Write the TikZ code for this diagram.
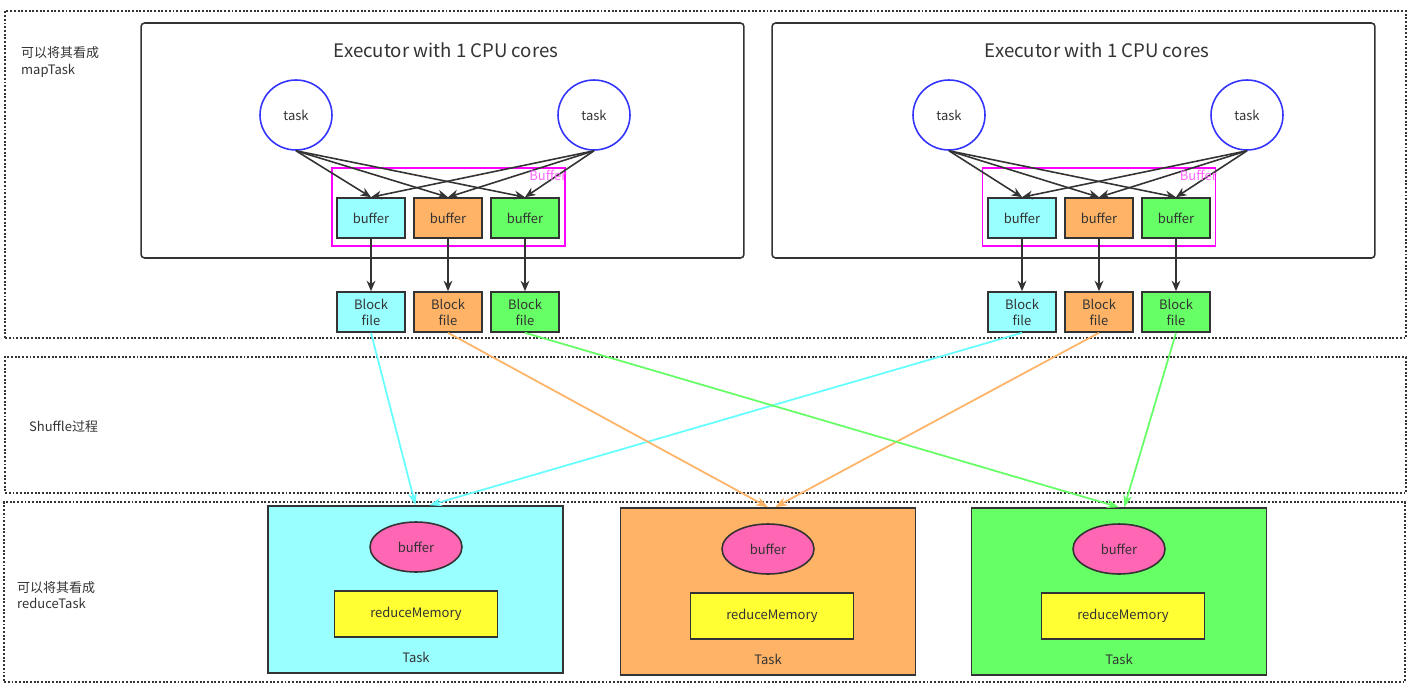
\documentclass[tikz,border=0pt]{standalone}
\usepackage{fontspec}
\setmainfont{Noto Sans CJK SC}
\usetikzlibrary{arrows.meta, positioning, shapes.geometric}
\definecolor{txt}{HTML}{333333}
\definecolor{taskblue}{HTML}{3333FF}
\definecolor{grpmag}{HTML}{FF00FF}
\definecolor{grptext}{HTML}{FF66FF}
\definecolor{fcyan}{HTML}{99FFFF}
\definecolor{forange}{HTML}{FFB366}
\definecolor{fgreen}{HTML}{66FF66}
\definecolor{lcyan}{HTML}{66FFFF}
\definecolor{fpink}{HTML}{FF66B3}
\definecolor{fyellow}{HTML}{FFFF33}

\begin{document}
\begin{tikzpicture}[
			x=0.02cm, y=-0.02cm,
			font=\fontsize{7.4}{9.5}\selectfont, text=txt,
			area/.style={draw=txt, densely dotted, line width=1.1pt, minimum width=28.02cm},
			executor/.style={draw=txt, rounded corners=2pt, line width=0.9pt, minimum width=12.06cm, minimum height=4.7cm},
			title/.style={font=\fontsize{10.6}{12}\selectfont},
			taskcirc/.style={ellipse, draw=taskblue, line width=0.9pt, minimum width=1.44cm, minimum height=1.4cm},
			bufgroup/.style={draw=grpmag, line width=0.9pt, minimum width=4.66cm, minimum height=1.56cm},
			grplabel/.style={text=grptext, inner sep=0.5pt},
			bufbox/.style={draw=txt, line width=0.9pt, minimum width=1.36cm, minimum height=0.8cm},
			blockbox/.style={bufbox, align=center, font=\fontsize{7.4}{9}\selectfont},
			redtask/.style={draw=txt, line width=0.9pt, minimum width=5.9cm, minimum height=3.34cm},
			redbuf/.style={ellipse, draw=txt, fill=fpink, line width=0.9pt, minimum width=1.84cm, minimum height=1cm},
			redmem/.style={draw=txt, fill=fyellow, line width=0.9pt, minimum width=3.26cm, minimum height=0.92cm},
			sidelabel/.style={align=left, anchor=west},
			arr/.style={-{Stealth[length=6pt, width=5pt]}, draw=txt, line width=0.9pt},
			flow/.style={-{Stealth[length=7pt, width=5pt]}, line width=1pt}
			]
			
			\useasboundingbox (0,0) rectangle (1414,687);
			
			% dotted areas
			\node[area, minimum height=6.54cm] (maparea) at (705.5,174.5) {};
			\node[area, minimum height=2.72cm] (shufarea) at (705.5,425) {};
			\node[area, minimum height=3.6cm] (redarea) at (704.5,592) {};
			
			\node[sidelabel] (mapnote) at (15,62) {可以将其看成\\mapTask};
			\node[sidelabel] (shufnote) at (23,427) {Shuffle过程};
			\node[sidelabel] (rednote) at (11,595) {可以将其看成\\reduceTask};
			
			% executors
			\node[executor] (exeL) at (442.5,140.5) {};
			\node[executor] (exeR) at (1073.5,140.5) {};
			\node[title] (titleL) at (446,50) {Executor with 1 CPU cores};
			\node[title] (titleR) at (1097,50) {Executor with 1 CPU cores};
			
			\node[taskcirc] (tL1) at (296,115) {task};
			\node[taskcirc] (tL2) at (594,115) {task};
			\node[taskcirc] (tR1) at (949,115) {task};
			\node[taskcirc] (tR2) at (1247,115) {task};
			
			\node[bufgroup] (gL) at (448.5,207) {};
			\node[bufgroup] (gR) at (1099,207) {};
			
			\node[bufbox, fill=fcyan] (bL1) at (371,218) {buffer};
			\node[bufbox, fill=forange] (bL2) at (448,218) {buffer};
			\node[bufbox, fill=fgreen] (bL3) at (525,218) {buffer};
			\node[bufbox, fill=fcyan] (bR1) at (1022,218) {buffer};
			\node[bufbox, fill=forange] (bR2) at (1099,218) {buffer};
			\node[bufbox, fill=fgreen] (bR3) at (1176,218) {buffer};
			
			\node[blockbox, fill=fcyan] (fL1) at (371,312) {Block\\file};
			\node[blockbox, fill=forange] (fL2) at (448,312) {Block\\file};
			\node[blockbox, fill=fgreen] (fL3) at (525,312) {Block\\file};
			\node[blockbox, fill=fcyan] (fR1) at (1022,312) {Block\\file};
			\node[blockbox, fill=forange] (fR2) at (1099,312) {Block\\file};
			\node[blockbox, fill=fgreen] (fR3) at (1176,312) {Block\\file};
			
			% reduce tasks
			\node[redtask, fill=fcyan] (rt1) at (415.5,589.5) {};
			\node[redtask, fill=forange] (rt2) at (768,591.5) {};
			\node[redtask, fill=fgreen] (rt3) at (1119,591.5) {};
			
			\node[redbuf] (rb1) at (416,547) {buffer};
			\node[redbuf] (rb2) at (768,549) {buffer};
			\node[redbuf] (rb3) at (1119,549) {buffer};
			\node[redmem] (rm1) at (416,614) {reduceMemory};
			\node[redmem] (rm2) at (772,616) {reduceMemory};
			\node[redmem] (rm3) at (1123,616) {reduceMemory};
			\node (rl1) at (416,657) {Task};
			\node (rl2) at (768,659) {Task};
			\node (rl3) at (1119,659) {Task};
			
			% task -> buffer
			\draw[arr] (tL1.south) -- (bL1.north);
			\draw[arr] (tL1.south) -- (bL2.north);
			\draw[arr] (tL1.south) -- (bL3.north);
			\draw[arr] (tL2.south) -- (bL1.north);
			\draw[arr] (tL2.south) -- (bL2.north);
			\draw[arr] (tL2.south) -- (bL3.north);
			\draw[arr] (tR1.south) -- (bR1.north);
			\draw[arr] (tR1.south) -- (bR2.north);
			\draw[arr] (tR1.south) -- (bR3.north);
			\draw[arr] (tR2.south) -- (bR1.north);
			\draw[arr] (tR2.south) -- (bR2.north);
			\draw[arr] (tR2.south) -- (bR3.north);
			
			\node[grplabel, anchor=north east] (gLlabel) at ([xshift=1pt, yshift=-1pt]gL.north east) {Buffer};
			\node[grplabel, anchor=north east] (gRlabel) at ([xshift=1pt, yshift=-1pt]gR.north east) {Buffer};
			
			% buffer -> block file
			\draw[arr] (bL1) -- (fL1);
			\draw[arr] (bL2) -- (fL2);
			\draw[arr] (bL3) -- (fL3);
			\draw[arr] (bR1) -- (fR1);
			\draw[arr] (bR2) -- (fR2);
			\draw[arr] (bR3) -- (fR3);
			
			% shuffle
			\draw[flow, lcyan] (fL1.south) -- (rt1.north);
			\draw[flow, lcyan] (fR1.south) -- ([xshift=8pt]rt1.north);
			\draw[flow, forange] (fL2.south) -- (rt2.north);
			\draw[flow, forange] (fR2.south) -- ([xshift=4pt]rt2.north);
			\draw[flow, fgreen] (fL3.south) -- (rt3.north);
			\draw[flow, fgreen] (fR3.south) -- ([xshift=3pt]rt3.north);
			
		\end{tikzpicture}
\end{document}
